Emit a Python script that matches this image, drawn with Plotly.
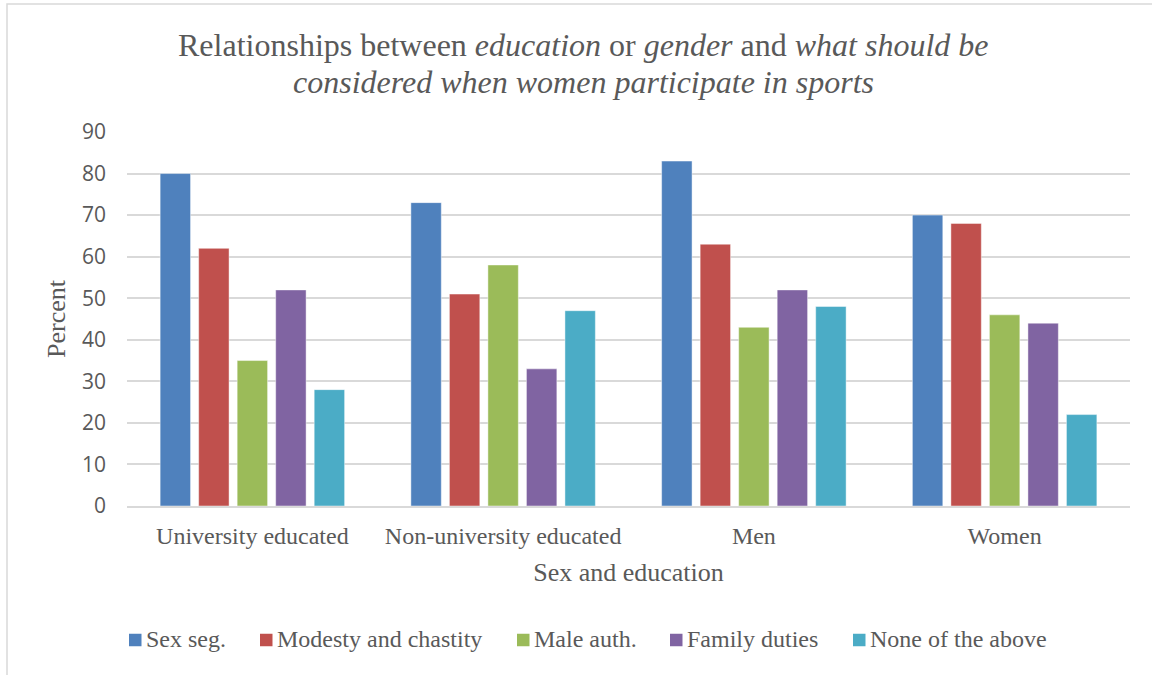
import plotly.graph_objects as go

categories = ["University educated", "Non-university educated", "Men", "Women"]
series_names = ["Sex seg.", "Modesty and chastity", "Male auth.", "Family duties", "None of the above"]
sex_seg = [80, 73, 83, 70]
modesty = [62, 51, 63, 68]
male_auth = [35, 58, 43, 46]
family_duties = [52, 33, 52, 44]
none_above = [28, 47, 48, 22]
y_ticks = [0, 10, 20, 30, 40, 50, 60, 70, 80, 90]
title_lines = [
    "Relationships between <i>education</i> or <i>gender</i> and <i>what should be</i>",
    "<i>considered when women participate in sports</i>",
]

colors = ["#4F81BD", "#C0504D", "#9BBB59", "#8064A2", "#4BACC6"]
values = [sex_seg, modesty, male_auth, family_duties, none_above]

SERIF = "Liberation Serif"
SANS = "Open Sans"
GRAY = "#595959"
GRID = "#D9D9D9"

W, H = 1152, 675
L, R, T, B = 127, 22, 132, 169
PW, PH = W - L - R, H - T - B


def px_x(x):
    return (x - L) / PW


def px_y(y):
    return 1 - (y - T) / PH


fig = go.Figure()
for name, vals, col in zip(series_names, values, colors):
    fig.add_trace(go.Bar(
        x=categories, y=vals, name=name,
        marker=dict(color=col, line=dict(color="rgba(255,255,255,0.45)", width=1)),
    ))

fig.update_layout(
    width=W, height=H,
    margin=dict(l=L, r=R, t=T, b=B),
    paper_bgcolor="white", plot_bgcolor="white",
    barmode="group", bargap=0.232, bargroupgap=0.21,
    showlegend=False,
    font=dict(color=GRAY),
)

# title (two centred lines)
for line, yc in zip(title_lines, [45, 82]):
    fig.add_annotation(xref="paper", yref="paper", x=px_x(583), y=px_y(yc),
                       xanchor="center", yanchor="middle", showarrow=False, text=line,
                       font=dict(family=SERIF, size=32, color=GRAY))

fig.update_xaxes(
    showgrid=False, showline=True, linecolor=GRID, linewidth=1.5,
    ticks="", ticklabelstandoff=7, tickfont=dict(family=SERIF, size=24, color=GRAY),
    title=dict(text="Sex and education", font=dict(family=SERIF, size=26, color=GRAY), standoff=15),
)
fig.update_yaxes(
    range=[0, 90], tickvals=y_ticks, showgrid=True, gridcolor=GRID, gridwidth=1.5,
    zeroline=False, showline=False, ticks="", ticklabelstandoff=20,
    tickfont=dict(family=SANS, size=21, color=GRAY),
    title=dict(text="Percent", font=dict(family=SERIF, size=26, color=GRAY), standoff=8),
)

# custom legend (Excel-style: small square right before the label)
legend_marker_left = [129, 260, 517, 670, 853]
legend_y = 640
sq = 12.5
for name, col, mx in zip(series_names, colors, legend_marker_left):
    fig.add_shape(type="rect", xref="paper", yref="paper",
                  x0=px_x(mx), x1=px_x(mx + sq),
                  y0=px_y(legend_y + sq / 2), y1=px_y(legend_y - sq / 2),
                  fillcolor=col, line=dict(width=0))
    fig.add_annotation(xref="paper", yref="paper", x=px_x(mx + sq + 2), y=px_y(legend_y - 1),
                       xanchor="left", yanchor="middle", showarrow=False, text=name,
                       font=dict(family=SERIF, size=24, color=GRAY))

# outer chart border
fig.add_shape(type="rect", xref="paper", yref="paper",
              x0=px_x(7), x1=px_x(1200), y0=px_y(720), y1=px_y(4),
              line=dict(color=GRID, width=1.5), layer="below")

fig.write_html("out.html")
